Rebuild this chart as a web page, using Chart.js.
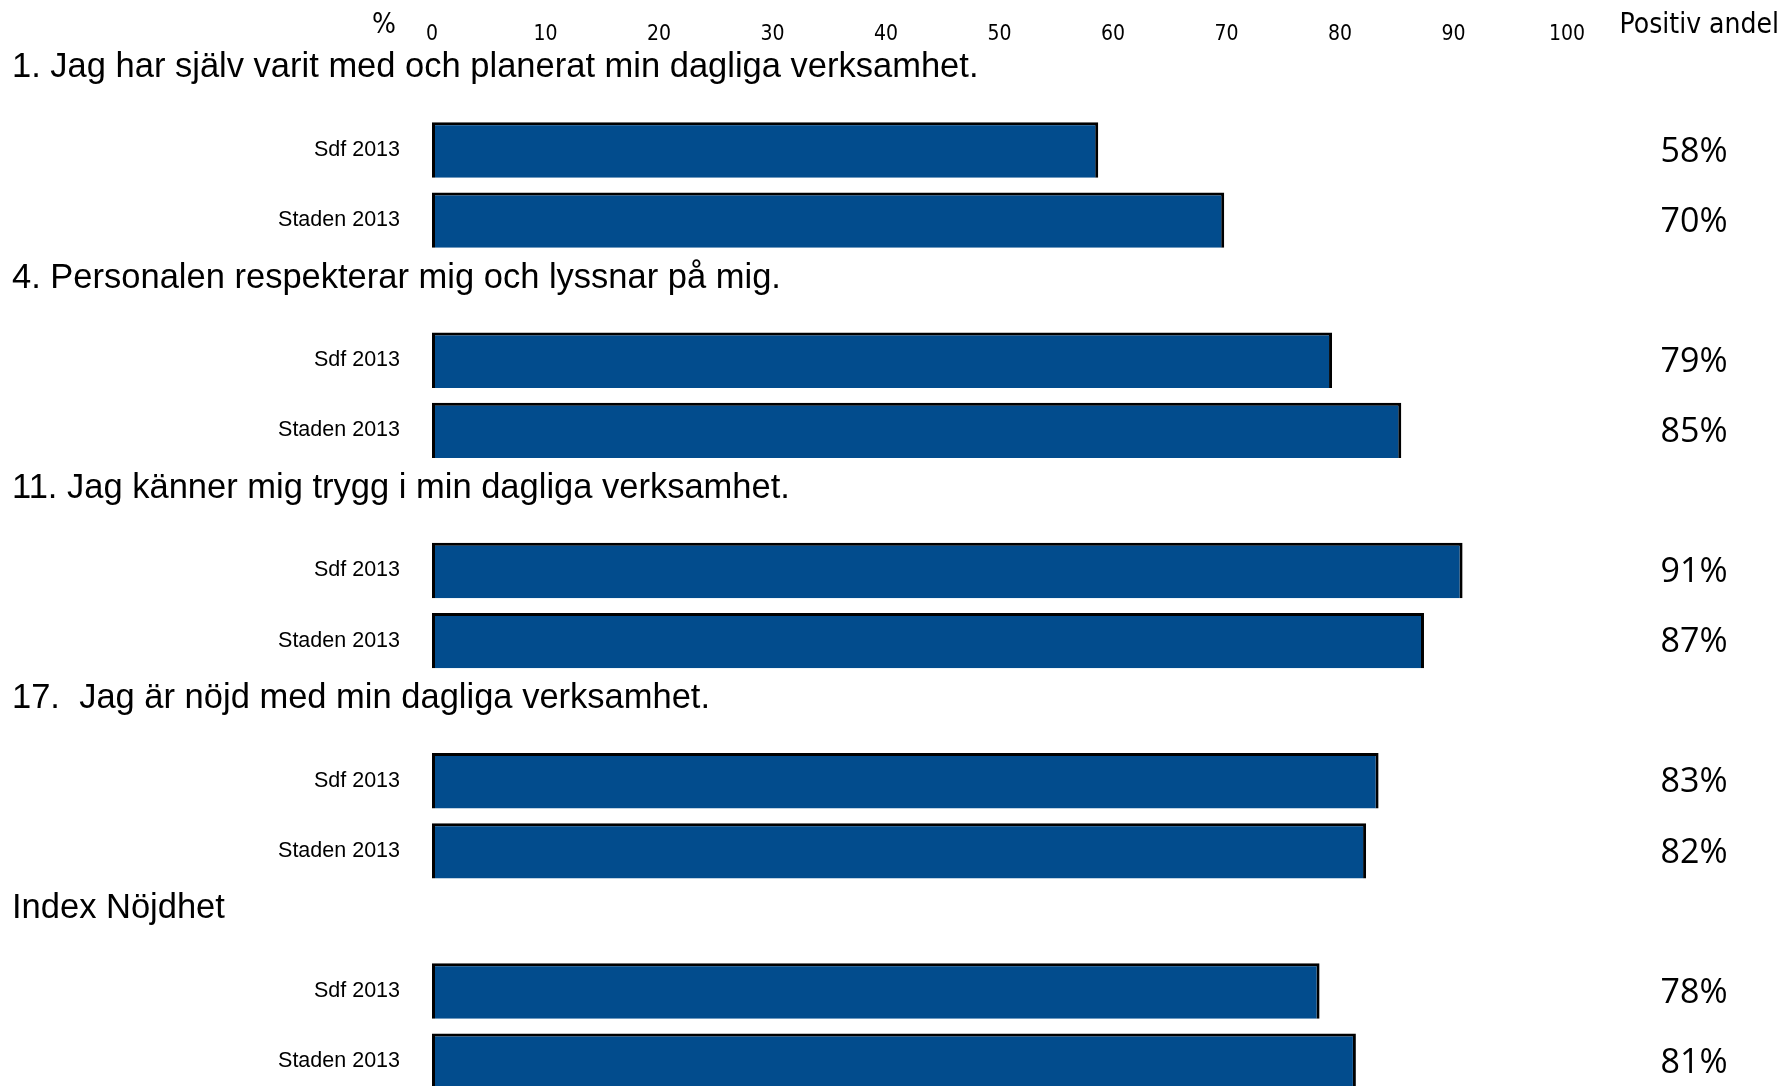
<!DOCTYPE html>
<html>
<head>
<meta charset="utf-8">
<script src="https://cdn.jsdelivr.net/npm/chart.js@4.4.1/dist/chart.umd.min.js"></script>
<style>
  body { margin: 0; overflow: hidden; background: #fff; }
  canvas { display: block; }
</style>
</head>
<body>
<canvas id="chart" width="1783" height="1141"></canvas>
<script>
// questions, one group of bars each
var questions = [
  "1. Jag har själv varit med och planerat min dagliga verksamhet.",
  "4. Personalen respekterar mig och lyssnar på mig.",
  "11. Jag känner mig trygg i min dagliga verksamhet.",
  "17.  Jag är nöjd med min dagliga verksamhet.",
  "Index Nöjdhet"
];
var seriesNames = ["Sdf 2013", "Staden 2013"];
// bar lengths (%)
var sdfValues = [58.7, 79.3, 90.8, 83.4, 78.2];
var stadenValues = [69.8, 85.4, 87.4, 82.3, 81.4];
// printed share in the right column
var sdfShown = ["58%", "79%", "91%", "83%", "78%"];
var stadenShown = ["70%", "85%", "87%", "82%", "81%"];
var xTicks = [0, 10, 20, 30, 40, 50, 60, 70, 80, 90, 100];

// every question takes 3 rows: heading row, Sdf, Staden
var rowLabels = [], rowData = [], rowShown = [];
for (var i = 0; i < questions.length; i++) {
  rowLabels.push("");             rowData.push(null);            rowShown.push(null);
  rowLabels.push(seriesNames[0]); rowData.push(sdfValues[i]);    rowShown.push(sdfShown[i]);
  rowLabels.push(seriesNames[1]); rowData.push(stadenValues[i]); rowShown.push(stadenShown[i]);
}

var narrow = "'Liberation Sans Narrow', 'DejaVu Sans Condensed', 'Liberation Sans', sans-serif";

var textPlugin = {
  id: 'texts',
  afterDatasetsDraw: function(chart) {
    var ctx = chart.ctx;
    var y = chart.scales.y;
    ctx.save();
    ctx.fillStyle = '#000';
    ctx.textBaseline = 'middle';

    // question headings
    ctx.font = "34.5px 'Liberation Sans', Arial, sans-serif";
    ctx.textAlign = 'left';
    for (var i = 0; i < questions.length; i++) {
      ctx.fillText(questions[i], 12, y.getPixelForValue(i * 3) - 12);
    }

    // percent column
    ctx.font = "34px 'Open Sans', sans-serif";
    ctx.textAlign = 'center';
    var meta = chart.getDatasetMeta(0);
    meta.data.forEach(function(bar, idx) {
      if (rowShown[idx] == null) return;
      ctx.fillText(rowShown[idx], 1694, bar.y + 2);
    });

    // header texts
    ctx.font = "28px " + narrow;
    ctx.textAlign = 'center';
    ctx.fillText("%", 384, 26);
    ctx.textAlign = 'right';
    ctx.fillText("Positiv andel", 1779, 26);
    ctx.restore();
  }
};

new Chart(document.getElementById('chart'), {
  type: 'bar',
  data: {
    labels: rowLabels,
    datasets: [{
      data: rowData,
      backgroundColor: '#024C8D',
      borderColor: '#000',
      borderWidth: 3,
      borderSkipped: 'bottom',
      categoryPercentage: 1,
      barPercentage: 0.79
    }]
  },
  options: {
    indexAxis: 'y',
    responsive: false,
    animation: false,
    layout: { autoPadding: false, padding: { top: 0, right: 216, bottom: 0, left: 0 } },
    plugins: {
      legend: { display: false },
      tooltip: { enabled: false }
    },
    scales: {
      x: {
        position: 'top',
        min: 0,
        max: 100,
        afterBuildTicks: function(scale) {
          scale.ticks = xTicks.map(function(v) { return { value: v }; });
        },
        afterFit: function(scale) { scale.height = 38; },
        grid: { display: false, drawTicks: false },
        border: { display: false },
        ticks: {
          padding: -2,
          color: '#000',
          font: { family: narrow, size: 21 },
          maxRotation: 0
        }
      },
      y: {
        afterFit: function(scale) { scale.width = 432; },
        grid: { display: false, drawTicks: false },
        border: { display: false },
        ticks: {
          padding: 32,
          color: '#000',
          autoSkip: false,
          font: { family: "'Liberation Sans', Arial, sans-serif", size: 21.5 }
        }
      }
    }
  },
  plugins: [textPlugin]
});
</script>
</body>
</html>
